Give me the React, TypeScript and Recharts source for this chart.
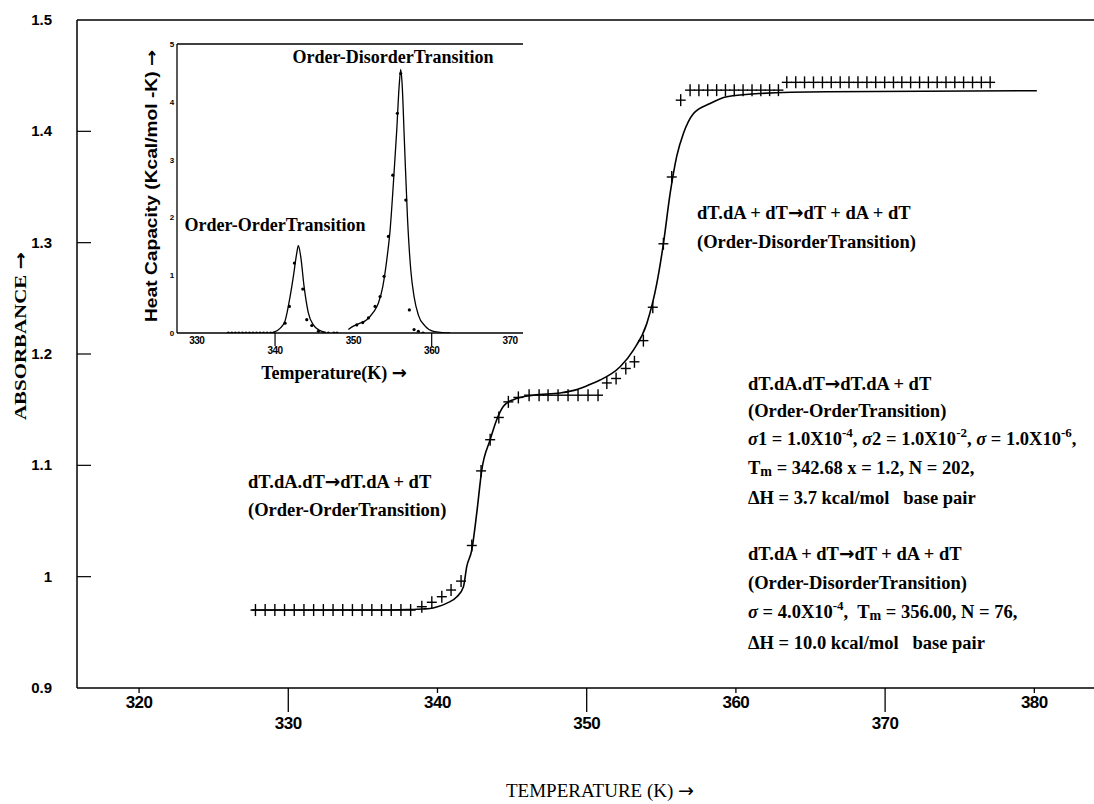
import React from "react";
import {
  ComposedChart,
  Line,
  Scatter,
  XAxis,
  YAxis,
  ReferenceLine,
} from "recharts";

// main plot: fitted absorbance curve
const fitTemp = [327.55, 336.0, 338.0, 339.0, 339.5, 340.0, 340.6, 341.3, 341.74, 341.96, 342.3, 342.63, 342.97, 343.53, 343.97, 344.42, 345.09, 346.43, 348.22, 349.34, 350.45, 350.9, 352.24, 353.13, 354.03, 354.7, 355.14, 355.59, 356.04, 356.48, 357.16, 358.27, 359.39, 361.62, 366.1, 380.17];
const fitAbs = [0.97, 0.97, 0.9705, 0.971, 0.9714, 0.973, 0.976, 0.982, 0.991, 1.009, 1.024, 1.057, 1.096, 1.123, 1.141, 1.153, 1.159, 1.163, 1.165, 1.168, 1.174, 1.1766, 1.1885, 1.2035, 1.2275, 1.2634, 1.299, 1.344, 1.378, 1.398, 1.416, 1.425, 1.431, 1.434, 1.4356, 1.4365];

// main plot: measured absorbance (crosses)
const obsTemp = [327.8, 328.45, 329.1, 329.75, 330.4, 331.05, 331.7, 332.35, 333.0, 333.65, 334.3, 334.95, 335.6, 336.25, 336.9, 337.55, 338.2, 338.95, 339.62, 340.29, 340.91, 341.58, 342.3, 342.92, 343.53, 344.11, 344.75, 345.42, 346.14, 346.81, 347.41, 348.08, 348.75, 349.42, 350.09, 350.76, 351.35, 351.97, 352.62, 353.2, 353.8, 354.43, 355.14, 355.7, 356.3, 356.93, 357.52, 358.11, 358.71, 359.3, 359.89, 360.48, 361.08, 361.67, 362.26, 362.85, 363.41, 364.01, 364.6, 365.2, 365.8, 366.39, 366.99, 367.58, 368.18, 368.78, 369.37, 369.97, 370.56, 371.12, 371.71, 372.31, 372.9, 373.49, 374.08, 374.67, 375.26, 375.86, 376.45, 377.04];
const obsAbs = [0.97, 0.97, 0.97, 0.97, 0.97, 0.97, 0.97, 0.97, 0.97, 0.97, 0.97, 0.97, 0.97, 0.97, 0.97, 0.97, 0.97, 0.973, 0.977, 0.982, 0.988, 0.996, 1.028, 1.095, 1.123, 1.143, 1.157, 1.161, 1.163, 1.163, 1.163, 1.163, 1.163, 1.163, 1.163, 1.163, 1.174, 1.178, 1.187, 1.193, 1.212, 1.242, 1.299, 1.359, 1.428, 1.437, 1.437, 1.437, 1.437, 1.437, 1.437, 1.437, 1.437, 1.437, 1.437, 1.437, 1.444, 1.444, 1.444, 1.444, 1.444, 1.444, 1.444, 1.444, 1.444, 1.444, 1.444, 1.444, 1.444, 1.444, 1.444, 1.444, 1.444, 1.444, 1.444, 1.444, 1.444, 1.444, 1.444, 1.444];

const absTicks = [0.9, 1.0, 1.1, 1.2, 1.3, 1.4, 1.5];
const tempTicks = [320, 330, 340, 350, 360, 370, 380];

// inset: heat capacity
const cpFitTemp1 = [339.79, 340.64, 341.28, 341.92, 342.34, 342.77, 342.98, 343.28, 343.7, 344.25, 344.89, 345.75, 346.5];
const cpFit1 = [0.01, 0.08, 0.21, 0.63, 0.98, 1.38, 1.51, 1.32, 0.81, 0.35, 0.14, 0.04, 0.01];
const cpFitTemp2 = [349.36, 350.0, 350.86, 351.71, 352.56, 353.2, 353.75, 354.27, 354.69, 355.11, 355.54, 355.84, 356.05, 356.22, 356.51, 356.9, 357.33, 357.75, 358.3, 359.16, 360.22, 362.35];
const cpFit2 = [0.06, 0.12, 0.17, 0.23, 0.36, 0.52, 0.8, 1.27, 1.78, 2.59, 3.51, 4.26, 4.56, 4.32, 3.34, 2.02, 1.09, 0.63, 0.31, 0.12, 0.03, 0.0];
const cpObsTemp = [334.04, 334.49, 334.94, 335.39, 335.84, 336.29, 336.74, 337.19, 337.64, 338.09, 338.54, 338.99, 339.44, 339.79, 341.28, 341.83, 342.47, 343.54, 344.05, 344.69, 345.53, 346.2, 346.8, 347.5, 347.9, 350.43, 351.2, 351.92, 352.77, 353.41, 353.92, 354.47, 355.03, 355.62, 356.05, 356.69, 357.15, 357.75, 358.3, 358.9];
const cpObs = [0, 0, 0, 0, 0, 0, 0, 0, 0, 0, 0, 0, 0, 0, 0.17, 0.46, 1.21, 0.76, 0.23, 0.13, 0.03, 0, 0, 0, 0, 0.14, 0.18, 0.26, 0.46, 0.63, 0.98, 1.67, 2.73, 3.8, 4.49, 2.3, 0.4, 0.06, 0.03, 0];
const cpTicks = [0, 1, 2, 3, 4, 5];
const insetTempTicks = [330, 340, 350, 360, 370];

const zip = (t: number[], v: number[], key: string) =>
  t.map((x, i) => ({ t: x, [key]: v[i] }));

const fitData = zip(fitTemp, fitAbs, "a");
const obsData = zip(obsTemp, obsAbs, "a");
const cpLine1 = zip(cpFitTemp1, cpFit1, "c");
const cpLine2 = zip(cpFitTemp2, cpFit2, "c");
const cpDots = zip(cpObsTemp, cpObs, "c");

const SANS = "'Liberation Sans', Arial, sans-serif";
const SERIF = "'Liberation Serif', 'Times New Roman', serif";
const ARROW = "'DejaVu Sans', sans-serif";

const Plus = (p: any) => {
  const { cx, cy } = p;
  if (cx == null || cy == null) return null;
  return (
    <g stroke="#000" strokeWidth={1.4}>
      <line x1={cx - 5} x2={cx + 5} y1={cy} y2={cy} />
      <line x1={cx} x2={cx} y1={cy - 6} y2={cy + 6} />
    </g>
  );
};

const Dot = (p: any) => {
  const { cx, cy } = p;
  if (cx == null || cy == null) return null;
  return <circle cx={cx} cy={cy} r={1.6} fill="#000" />;
};

const MainXTick = (p: any) => {
  const { x, y, payload } = p;
  const low = [330, 350, 370].includes(payload.value);
  return (
    <g>
      <line x1={x} x2={x} y1={y} y2={y + (low ? 24 : 5)} stroke="#000" strokeWidth={1.3} />
      <text x={x} y={y + (low ? 41 : 20)} textAnchor="middle" fontFamily={SANS} fontWeight="bold" fontSize={17} letterSpacing={-0.5} fill="#000">
        {payload.value}
      </text>
    </g>
  );
};

const MainYTick = (p: any) => {
  const { x, y, payload } = p;
  const v = payload.value;
  const inner = v > 0.95 && v < 1.45;
  return (
    <g>
      {inner && <line x1={x} x2={x + 14} y1={y} y2={y} stroke="#000" strokeWidth={1.2} />}
      <text x={x - 25} y={y + 5} textAnchor="end" fontFamily={SANS} fontWeight="bold" fontSize={15} fill="#000">
        {Math.abs(v - 1) < 1e-6 ? "1" : v.toFixed(1)}
      </text>
    </g>
  );
};

const InsetXTick = (p: any) => {
  const { x, y, payload } = p;
  const low = [340, 360].includes(payload.value);
  return (
    <g>
      {low && <line x1={x} x2={x} y1={y} y2={y + 13} stroke="#000" strokeWidth={1.2} />}
      <text x={x} y={y + (low ? 21 : 11)} textAnchor="middle" fontFamily={SANS} fontWeight="bold" fontSize={10} letterSpacing={-0.5} fill="#000">
        {payload.value}
      </text>
    </g>
  );
};

const InsetYTick = (p: any) => {
  const { x, y, payload } = p;
  return (
    <text x={x - 5} y={y + 3} textAnchor="middle" fontFamily={SANS} fontWeight="bold" fontSize={8} fill="#000">
      {payload.value}
    </text>
  );
};

const txt = {
  fontFamily: SERIF,
  fontWeight: "bold" as const,
  fontSize: 18.5,
  fill: "#000",
  style: { whiteSpace: "pre" as const },
};

const Ar = () => (
  <tspan fontFamily={ARROW} fontWeight="bold">→</tspan>
);

// superscript followed by the rest of the line back on the baseline
const Sup = ({ s, after }: { s: string; after: string }) => (
  <>
    <tspan dy={-8} fontSize={13}>{s}</tspan>
    <tspan dy={8}>{after}</tspan>
  </>
);

const Tm = ({ rest }: { rest: string }) => (
  <>
    <tspan>T</tspan>
    <tspan fontSize={14} dy={2}>m</tspan>
    <tspan dy={-2}>{rest}</tspan>
  </>
);

const Sig = ({ n }: { n: string }) => (
  <>
    <tspan fontStyle="italic">σ</tspan>
    <tspan>{n}</tspan>
  </>
);

export default function App() {
  return (
    <div style={{ position: "absolute", left: 0, top: 0, width: 1094, height: 804, background: "#fff" }}>
      <div style={{ position: "absolute", left: 0, top: 0 }}>
        <ComposedChart width={1094} height={804} margin={{ top: 20, right: 0, left: 0, bottom: 86 }}>
          <XAxis
            dataKey="t"
            type="number"
            domain={[315.84, 384]}
            allowDataOverflow
            ticks={tempTicks}
            height={30}
            tickSize={0}
            tickMargin={0}
            tickLine={false}
            axisLine={{ stroke: "#000", strokeWidth: 1.5 }}
            tick={<MainXTick />}
          />
          <YAxis
            dataKey="a"
            type="number"
            domain={[0.9, 1.5]}
            allowDataOverflow
            ticks={absTicks}
            width={77}
            tickSize={0}
            tickMargin={0}
            tickLine={false}
            axisLine={{ stroke: "#000", strokeWidth: 1.5 }}
            tick={<MainYTick />}
          />
          <ReferenceLine y={1.5} stroke="#000" strokeWidth={1.5} />
          <Line data={fitData} dataKey="a" type="monotone" stroke="#000" strokeWidth={1.6} dot={false} isAnimationActive={false} />
          <Scatter data={obsData} dataKey="a" shape={<Plus />} isAnimationActive={false} />
        </ComposedChart>
      </div>

      <div style={{ position: "absolute", left: 0, top: 0 }}>
        <ComposedChart width={523} height={400} margin={{ top: 44, right: 0, left: 157, bottom: 37 }}>
          <XAxis
            dataKey="t"
            type="number"
            domain={[327.48, 371.66]}
            allowDataOverflow
            ticks={insetTempTicks}
            height={30}
            tickSize={0}
            tickMargin={0}
            tickLine={false}
            axisLine={{ stroke: "#000", strokeWidth: 1.3 }}
            tick={<InsetXTick />}
          />
          <YAxis
            dataKey="c"
            type="number"
            domain={[0, 5]}
            allowDataOverflow
            ticks={cpTicks}
            width={20}
            tickSize={0}
            tickMargin={0}
            tickLine={false}
            axisLine={{ stroke: "#000", strokeWidth: 1.3 }}
            tick={<InsetYTick />}
          />
          <ReferenceLine y={5} stroke="#000" strokeWidth={1.3} />
          <Line data={cpLine1} dataKey="c" type="monotone" stroke="#000" strokeWidth={1.3} dot={false} isAnimationActive={false} />
          <Line data={cpLine2} dataKey="c" type="monotone" stroke="#000" strokeWidth={1.3} dot={false} isAnimationActive={false} />
          <Scatter data={cpDots} dataKey="c" shape={<Dot />} isAnimationActive={false} />
        </ComposedChart>
      </div>

      <svg width={1094} height={804} style={{ position: "absolute", left: 0, top: 0, pointerEvents: "none" }}>
        {/* axis titles */}
        <text transform="rotate(-90, 26, 336)" x={26} y={336} textAnchor="middle" fontFamily={SERIF} fontWeight="bold" fontSize={17} textLength={168} lengthAdjust="spacingAndGlyphs">
          ABSORBANCE <Ar />
        </text>
        <text x={600} y={797} textAnchor="middle" fontFamily={SERIF} fontSize={19}>
          TEMPERATURE (K) <tspan fontFamily={ARROW}>→</tspan>
        </text>

        {/* inset titles */}
        <text transform="rotate(-90, 157, 186)" x={157} y={186} textAnchor="middle" fontFamily={SANS} fontWeight="bold" fontSize={16} textLength={272} lengthAdjust="spacingAndGlyphs">
          Heat Capacity (Kcal/mol -K) <tspan fontFamily={ARROW}>→</tspan>
        </text>
        <text x={334} y={379} textAnchor="middle" {...txt} fontSize={18}>
          Temperature(K) <Ar />
        </text>
        <text x={393} y={63} textAnchor="middle" {...txt} fontSize={18}>
          Order-DisorderTransition
        </text>
        <text x={275} y={231} textAnchor="middle" {...txt} fontSize={18}>
          Order-OrderTransition
        </text>

        {/* curve annotations */}
        <text x={697} y={219} {...txt}>dT.dA + dT<Ar />dT + dA + dT</text>
        <text x={697} y={248} {...txt}>(Order-DisorderTransition)</text>
        <text x={248} y={488} {...txt}>dT.dA.dT<Ar />dT.dA + dT</text>
        <text x={248} y={516} {...txt}>(Order-OrderTransition)</text>

        {/* parameter block */}
        <text x={748} y={390} {...txt}>dT.dA.dT<Ar />dT.dA + dT</text>
        <text x={748} y={417} {...txt}>(Order-OrderTransition)</text>
        <text x={748} y={445} {...txt}>
          <Sig n="1" />
          <tspan> = 1.0X10</tspan>
          <Sup s="-4" after=", " />
          <Sig n="2" />
          <tspan> = 1.0X10</tspan>
          <Sup s="-2" after=", " />
          <Sig n="" />
          <tspan> = 1.0X10</tspan>
          <Sup s="-6" after="," />
        </text>
        <text x={748} y={474} {...txt}>
          <Tm rest=" = 342.68 x = 1.2, N = 202," />
        </text>
        <text x={748} y={504} {...txt}>ΔH = 3.7 kcal/mol   base pair</text>

        <text x={748} y={560} {...txt}>dT.dA + dT<Ar />dT + dA + dT</text>
        <text x={748} y={589} {...txt}>(Order-DisorderTransition)</text>
        <text x={748} y={618} {...txt}>
          <Sig n="" />
          <tspan> = 4.0X10</tspan>
          <Sup s="-4" after=",  " />
          <Tm rest=" = 356.00, N = 76," />
        </text>
        <text x={748} y={649} {...txt}>ΔH = 10.0 kcal/mol   base pair</text>
      </svg>
    </div>
  );
}
